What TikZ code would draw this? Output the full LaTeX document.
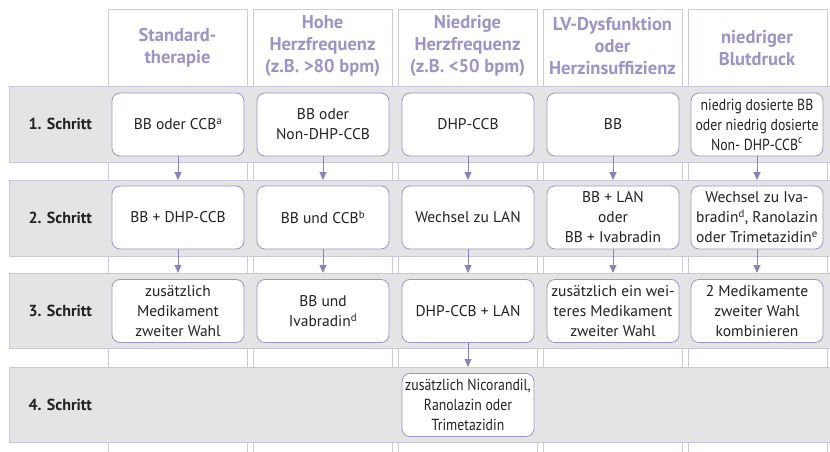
\documentclass[tikz,border=0pt]{standalone}
\usepackage{fontspec}
\setmainfont{PT Sans}
\newfontfamily\narrowfont[FakeStretch=0.86]{PT Sans}
\usetikzlibrary{arrows.meta}
\definecolor{bandgray}{HTML}{E4E4E4}
\definecolor{bandline}{HTML}{C9C6DD}
\definecolor{colline}{HTML}{CDC9E3}
\definecolor{headtxt}{HTML}{9B93C9}
\definecolor{boxline}{HTML}{9D95C9}
\definecolor{arrowc}{HTML}{8A82BE}
\definecolor{txt}{HTML}{222222}
\tikzset{
  band/.style={fill=bandgray, draw=bandline, line width=0.8pt},
  colframe/.style={draw=colline, line width=0.8pt},
  cell/.style={draw=boxline, fill=white, rounded corners=8pt, minimum width=132pt,
    minimum height=63pt, align=center, font=\fontsize{15.5}{20}\selectfont, text=txt,
    inner sep=0.5pt, line width=0.8pt},
  narrowcell/.style={cell, font=\narrowfont\fontsize{16}{20}\selectfont},
  head/.style={text=headtxt, font=\bfseries\fontsize{18.5}{22}\selectfont, align=center},
  steplabel/.style={font=\bfseries\fontsize{16}{18}\selectfont, text=txt, anchor=west},
  flow/.style={draw=arrowc, line width=0.8pt, -{Triangle[width=7pt,length=8pt]}}
}
\begin{document}
\begin{tikzpicture}[x=1pt,y=-1pt]
\useasboundingbox (0,0) rectangle (830,452);
% column frames
\foreach \l in {108,253,398,543,688}{
  \draw[colframe] (\l,9) rectangle ({\l+139},470);
}
% bands
\draw[band] (9,86) rectangle (840,162);
\draw[band] (9,180) rectangle (840,256);
\draw[band] (9,273) rectangle (840,348);
\draw[band] (9,367) rectangle (840,442);
% headers
\node[head] (h1) at (177.5,48) {Standard-\\therapie};
\node[head] (h2) at (322.5,46) {Hohe\\Herzfrequenz\\(z.B. >80 bpm)};
\node[head] (h3) at (467.5,46) {Niedrige\\Herzfrequenz\\(z.B. <50 bpm)};
\node[head] (h4) at (612.5,46) {LV-Dysfunktion\\oder\\Herzinsuffizienz};
\node[head] (h5) at (757,48) {niedriger\\Blutdruck};
% step labels
\node[steplabel] (s1) at (25,124) {1. Schritt};
\node[steplabel] (s2) at (25,218) {2. Schritt};
\node[steplabel] (s3) at (25,311) {3. Schritt};
\node[steplabel] (s4) at (25,405) {4. Schritt};
% row 1
\node[cell] (r1c1) at (178,124.5) {BB oder CCB\textsuperscript{a}};
\node[cell] (r1c2) at (323,124.5) {BB oder\\Non-DHP-CCB};
\node[cell] (r1c3) at (468,124.5) {DHP-CCB};
\node[cell] (r1c4) at (613,124.5) {BB};
\node[narrowcell] (r1c5) at (757,124.5) {niedrig dosierte BB\\oder niedrig dosierte\\Non- DHP-CCB\textsuperscript{c}};
% row 2
\node[cell] (r2c1) at (178,217.5) {BB + DHP-CCB};
\node[cell] (r2c2) at (323,217.5) {BB und CCB\textsuperscript{b}};
\node[cell] (r2c3) at (468,217.5) {Wechsel zu LAN};
\node[cell] (r2c4) at (613,217.5) {BB + LAN\\oder\\BB + Ivabradin};
\node[cell] (r2c5) at (757,217.5) {Wechsel zu Iva-\\bradin\textsuperscript{d}, Ranolazin\\oder Trimetazidin\textsuperscript{e}};
% row 3
\node[cell] (r3c1) at (178,311) {zusätzlich\\Medikament\\zweiter Wahl};
\node[cell] (r3c2) at (323,311) {BB und\\Ivabradin\textsuperscript{d}};
\node[cell] (r3c3) at (468,311) {DHP-CCB + LAN};
\node[cell] (r3c4) at (613,311) {zusätzlich ein wei-\\teres Medikament\\zweiter Wahl};
\node[cell] (r3c5) at (757,311) {2 Medikamente\\zweiter Wahl\\kombinieren};
% row 4
\node[narrowcell] (r4c3) at (468,405) {zusätzlich Nicorandil,\\Ranolazin oder\\Trimetazidin};
% arrow end points at band tops
\foreach \c/\x in {1/178,2/323,3/468,4/613,5/757}{
  \coordinate (t2c\c) at (\x,180);
  \coordinate (t3c\c) at (\x,273);
}
\coordinate (t4c3) at (468,367);
\foreach \c in {1,...,5}{
  \draw[flow] (r1c\c.south) -- (t2c\c);
  \draw[flow] (r2c\c.south) -- (t3c\c);
}
\draw[flow] (r3c3.south) -- (t4c3);
\end{tikzpicture}
\end{document}
